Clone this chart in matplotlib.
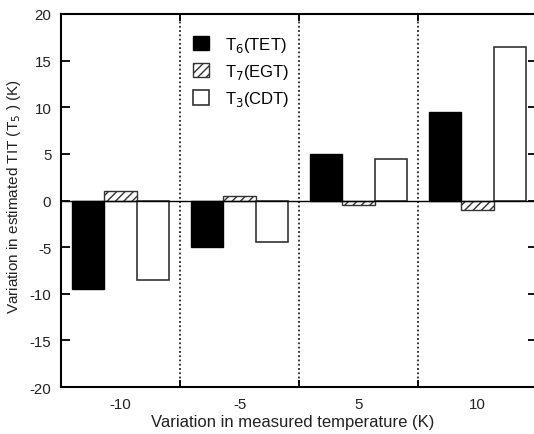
import matplotlib
matplotlib.use("Agg")
import matplotlib.pyplot as plt
import numpy as np

plt.rcParams['font.family'] = ['Liberation Sans', 'DejaVu Sans']
plt.rcParams['hatch.linewidth'] = 1.0

categories = ['-10', '-5', '5', '10']
t6_tet = [-9.5, -5.0, 5.0, 9.5]
t7_egt = [1.0, 0.5, -0.5, -1.0]
t3_cdt = [-8.5, -4.5, 4.5, 16.5]
series_labels = ['T$_6$(TET)', 'T$_7$(EGT)', 'T$_3$(CDT)']
yticks = [-20, -15, -10, -5, 0, 5, 10, 15, 20]

fig = plt.figure(figsize=(5.34, 4.35), dpi=100)
ax = fig.add_axes([61/534, 1 - 388/435, 476/534, 373/435])

x = np.arange(len(categories))
w = 0.27
ax.bar(x - w, t6_tet, w, color='black', edgecolor='black', linewidth=1.0, label=series_labels[0])
ax.bar(x, t7_egt, w, color='white', edgecolor='#333333', hatch='////', linewidth=1.0, label=series_labels[1])
ax.bar(x + w, t3_cdt, w, color='white', edgecolor='#333333', linewidth=1.2, label=series_labels[2])

ax.axhline(0, color='black', linewidth=1.0, zorder=3)
for b in [0.5, 1.5, 2.5]:
    ax.axvline(b, color='black', linestyle=(0, (1.2, 1.6)), linewidth=1.1, zorder=0.5)

ax.set_xlim(-0.5, 3.5)
ax.set_ylim(-20, 20)
ax.set_yticks(yticks)
ax.set_yticklabels([str(v) for v in yticks], fontsize=10.8, color='#222222')
ax.set_xticks([0.5, 1.5, 2.5])
ax.set_xticklabels([])
ax.set_xticks(x, minor=True)
ax.set_xticklabels(categories, minor=True, fontsize=10.8, color='#222222')
ax.tick_params(axis='y', which='major', direction='in', length=6.5, width=1.3, left=True, right=True, pad=7)
ax.tick_params(axis='x', which='major', direction='in', length=5, width=1.3, top=True, bottom=True)
ax.tick_params(axis='x', which='minor', length=0, pad=7)
for s in ax.spines.values():
    s.set_linewidth(1.5)

ax.set_xlabel('Variation in measured temperature (K)', fontsize=12, color='#222222')
ax.xaxis.set_label_coords((293 - 61) / 476, -(422 - 388) / 373)
ax.xaxis.label.set_va('center')
ax.set_ylabel('Variation in estimated TIT (T$_5$ ) (K)', fontsize=11, color='#222222')
ax.yaxis.set_label_coords(-(61 - 14) / 476, (388 - 197) / 373)
ax.yaxis.label.set_va('center')

leg = ax.legend(loc='upper left', bbox_to_anchor=(125/476, 1 - 14/373), frameon=False,
                fontsize=12, handlelength=0.95, handleheight=0.95, labelspacing=0.5,
                handletextpad=1.0, borderaxespad=0)

fig.savefig('out.png', dpi=100)
